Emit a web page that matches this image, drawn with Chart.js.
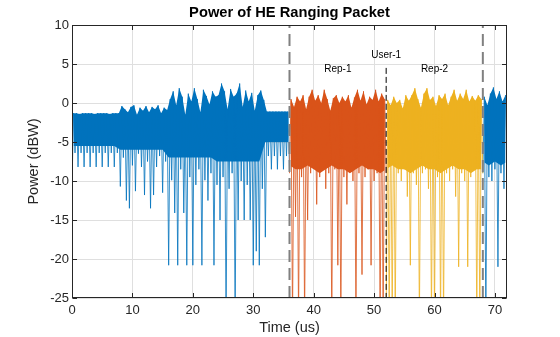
<!DOCTYPE html>
<html>
<head>
<meta charset="utf-8">
<title>Power of HE Ranging Packet</title>
<script src="https://cdn.jsdelivr.net/npm/chart.js@4.4.0/dist/chart.umd.min.js"></script>
<style>
  html, body { margin: 0; padding: 0; background: #fff; }
</style>
</head>
<body>
<canvas id="powerChart" width="560" height="337"></canvas>
<script>
// sample spacing of the traces below, in us
const timeStep = 0.25;
// spacing of the "solid body" floor arrays, in us
const floorStep = 1;

// where each trace starts (us)
const preambleStart = 0;
const rep1Start = 36;
const rep2Start = 52;
const tailStart = 68;

// power (dBW); values under -25 run off the bottom
const preamblePower = [
  -10.7, -1.3, -6.4, -1.3, -8.2, -1.4, -6.4, -1.3,
  -8.2, -1.3, -6.4, -1.3, -8.2, -1.3, -6.4, -1.4,
  -8.2, -1.3, -6.4, -1.3, -8.2, -1.3, -6.4, -1.3,
  -8.2, -1.4, -6.4, -1.3, -8.2, -1.3, -6.4, -1.3,
  -10.7, -0.4, -7.0, -0.8, -12.5, -1.2, -13.5, -0.5,
  -8.0, -0.3, -11.3, -1.5, -6.5, -0.6, -8.2, -1.0,
  -11.8, -0.4, -7.5, -1.2, -13.5, -0.5, -11.8, -0.8,
  -8.2, -0.3, -6.8, -1.3, -11.5, -0.6, -7.5, -0.9,
  -20.8, 0.5, -9.9, 1.5, -14.1, -0.3, -20.8, 1.9,
  -8.5, 0.8, -14.1, -1.5, -20.8, 1.2, -9.5, 0.2,
  -20.8, 1.9, -10.5, 0.5, -8.5, -1.2, -20.8, 1.7,
  -9.9, 0.9, -12.5, -0.2, -9.0, 1.5, -20.8, 0.8,
  -10.5, 1.0, -15.0, 2.5, -9.5, 1.5, -28, -0.8,
  -11.0, 1.8, -9.0, 0.8, -28, 1.2, -15.0, 2.5,
  -10.0, -0.5, -15.0, 1.6, -10.5, 0.2, -15.0, 1.3,
  -20.8, -1.0, -19.0, 1.0, -20.8, 1.6, -11.0, 0.4,
  -17.2, -1.1, -6.8, -1.1, -8.5, -1.1, -6.8, -1.1,
  -8.5, -1.1, -6.8, -1.1, -8.5, -1.1, -6.8, -1.1,
  -8.5
];

const rep1Power = [
  -9.0, 0.5, -28, -0.5, -14.6, 0.8, -28, 0.2,
  -9.5, 1.0, -28, -0.8, -15.0, 0.8, -9.0, 1.7,
  -8.0, 0.3, -13.0, 1.0, -9.5, 0.0, -8.5, 1.7,
  -11.0, 0.5, -9.0, -1.0, -28, 0.6, -8.5, 1.0,
  -20.8, 0.0, -28, 0.8, -9.5, 0.2, -13.0, 1.0,
  -8.0, -0.6, -10.0, 0.7, -28, 1.7, -9.0, 0.3,
  -22.0, 1.5, -9.5, -0.2, -8.5, 0.8, -20.8, 0.4,
  -10.0, 1.7, -9.0, 0.2, -28, 1.2, -28, 0.5,
  -9.0
];

const rep2Power = [
  -28, 0.4, -28, -0.3, -28, 0.8, -28, 0.0,
  -9.0, 0.4, -10.0, -0.7, -8.5, 1.0, -12.0, 0.3,
  -20.8, 1.0, -9.0, 1.9, -10.5, 0.5, -28, -0.6,
  -9.0, 1.2, -8.5, 1.9, -11.0, 0.4, -28, 0.8,
  -28, -0.4, -9.5, 1.0, -28, 0.5, -28, 1.2,
  -9.0, -0.3, -10.0, 0.8, -8.5, 1.7, -12.0, 0.3,
  -21.0, 1.2, -9.0, 0.5, -10.0, 1.7, -21.0, 0.2,
  -9.5, 0.9, -8.5, 0.3, -28, 1.0, -28, 0.5,
  -9.0
];

const tailPower = [
  -9.0, 0.8, -28, -0.3, -9.5, 1.2, -10.0, 2.0,
  -8.5, 0.5, -21.0, 1.5, -9.0, 0.2, -11.0, 1.0,
  -6.0
];

// lower edge of the solid-looking body of each trace (dBW), one per us
const preambleFloor = [
  -5.5, -5.5, -5.5, -5.5, -5.5, -5.5, -5.5, -5.5,
  -6.0, -6.0, -6.0, -6.0, -6.0, -6.0, -6.0, -6.0,
  -7.0, -7.0, -7.0, -7.0, -7.0, -7.0, -7.0, -7.0,
  -7.5, -7.5, -7.5, -7.5, -7.5, -7.5, -7.5, -7.5,
  -5.0, -5.0, -5.0, -5.0, -5.0
];
const rep1Floor = [-8.0, -8.5, -8.5, -8.0, -8.5, -9.0, -8.5, -8.0, -8.5, -8.5, -9.0, -8.5, -8.0, -8.5, -8.5, -9.0, -8.5];
const rep2Floor = [-8.5, -8.0, -8.5, -8.5, -9.0, -8.5, -8.0, -8.5, -8.5, -9.0, -8.5, -8.0, -8.5, -8.5, -9.0, -8.5, -8.5];
const tailFloor = [-7.5, -8.0, -7.5, -8.0, -7.5];

// field boundaries and the user boundary
const repEdges = [36, 68];
const userEdge = 52;
const userLineTop = 4.5;

const xTicks = [0, 10, 20, 30, 40, 50, 60, 70];
const yTicks = [-25, -20, -15, -10, -5, 0, 5, 10];

const noteText = ['Rep-1', 'User-1', 'Rep-2'];
const noteX = [44, 52, 60];
const noteY = [4.3, 6.1, 4.3];

const FONT = '"Liberation Sans", Arial, Helvetica, sans-serif';
const BLUE = '#0072BD', ORANGE = '#D95319', YELLOW = '#EDB120';

function toPoints(start, values, step) {
  return values.map((v, i) => ({ x: start + i * step, y: v }));
}

// only the local peaks of a trace: the top edge of its body
function peakPoints(start, values) {
  return toPoints(start, values, timeStep)
    .filter((p, i) => i > 0 && i < values.length - 1 && p.y >= values[i - 1] && p.y >= values[i + 1]);
}

// one trace = zigzag line + filled body between its peaks and its floor
function traceSets(start, values, floor, color, order) {
  return [
    { data: toPoints(start, values, timeStep), borderColor: color, borderWidth: 0.8, order: order },
    {
      data: peakPoints(start, values), borderWidth: 0, borderColor: 'transparent',
      backgroundColor: color, fill: '+1', order: order + 0.5
    },
    { data: toPoints(start, floor, floorStep), borderWidth: 0, borderColor: 'transparent', order: order + 0.5 }
  ];
}

// box, inward ticks, notes and title, drawn the MATLAB way
const axesFrame = {
  id: 'axesFrame',
  afterDraw(chart) {
    const { ctx, chartArea: a, scales } = chart;
    const L = Math.round(a.left) + 0.5, R = Math.round(a.right) - 0.5;
    const T = Math.round(a.top) + 0.5, B = Math.round(a.bottom) - 0.5;
    ctx.save();
    ctx.strokeStyle = '#262626';
    ctx.lineWidth = 1;
    ctx.strokeRect(L, T, R - L, B - T);
    ctx.beginPath();
    xTicks.forEach(v => {
      const px = Math.round(scales.x.getPixelForValue(v)) + 0.5;
      ctx.moveTo(px, B); ctx.lineTo(px, B - 4.5);
      ctx.moveTo(px, T); ctx.lineTo(px, T + 4.5);
    });
    yTicks.forEach(v => {
      const py = Math.round(scales.y.getPixelForValue(v)) + 0.5;
      ctx.moveTo(L, py); ctx.lineTo(L + 4.5, py);
      ctx.moveTo(R, py); ctx.lineTo(R - 4.5, py);
    });
    ctx.stroke();

    ctx.fillStyle = '#000';
    ctx.font = '10px ' + FONT;
    ctx.textAlign = 'center';
    ctx.textBaseline = 'middle';
    noteText.forEach((t, i) => {
      ctx.fillText(t, scales.x.getPixelForValue(noteX[i]), scales.y.getPixelForValue(noteY[i]));
    });

    ctx.font = 'bold 14.7px ' + FONT;
    ctx.fillText('Power of HE Ranging Packet', (a.left + a.right) / 2, 13);
    ctx.restore();
  }
};

const ctx = document.getElementById('powerChart').getContext('2d');

const powerChart = new Chart(ctx, {
  type: 'line',
  data: {
    datasets: [
      {
        data: [{ x: repEdges[0], y: -25 }, { x: repEdges[0], y: 10 }],
        borderColor: '#808080', borderWidth: 2, borderDash: [12, 6], order: 0
      },
      {
        data: [{ x: repEdges[1], y: -25 }, { x: repEdges[1], y: 10 }],
        borderColor: '#808080', borderWidth: 2, borderDash: [12, 6], order: 0
      },
      {
        data: [{ x: userEdge, y: userLineTop }, { x: userEdge, y: -25 }],
        borderColor: '#000000', borderWidth: 1, borderDash: [6, 3], order: 1
      },
      ...traceSets(rep2Start, rep2Power, rep2Floor, YELLOW, 2),
      ...traceSets(rep1Start, rep1Power, rep1Floor, ORANGE, 4),
      ...traceSets(tailStart, tailPower, tailFloor, BLUE, 6),
      ...traceSets(preambleStart, preamblePower, preambleFloor, BLUE, 8)
    ]
  },
  options: {
    responsive: false,
    animation: false,
    events: [],
    layout: { padding: { left: 0, right: 53, top: 25, bottom: 0 } },
    elements: {
      point: { radius: 0 },
      line: { tension: 0, fill: false }
    },
    scales: {
      x: {
        type: 'linear',
        min: 0,
        max: 72,
        afterBuildTicks: s => { s.ticks = xTicks.map(v => ({ value: v })); },
        afterFit: s => { s.height = 39; },
        grid: { color: '#dfdfdf', drawTicks: false },
        border: { display: false },
        ticks: { padding: 5, autoSkip: false, maxRotation: 0, color: '#262626', font: { family: FONT, size: 13 } },
        title: { display: true, text: 'Time (us)', color: '#262626', padding: { top: 0, bottom: 0 }, font: { family: FONT, size: 14.5 } }
      },
      y: {
        type: 'linear',
        min: -25,
        max: 10,
        afterBuildTicks: s => { s.ticks = yTicks.map(v => ({ value: v })); },
        afterFit: s => { s.width = 72; },
        grid: { color: '#dfdfdf', drawTicks: false },
        border: { display: false },
        ticks: { padding: 3, color: '#262626', font: { family: FONT, size: 13 } },
        title: { display: true, text: 'Power (dBW)', color: '#262626', padding: { top: 25, bottom: 0 }, font: { family: FONT, size: 14.5 } }
      }
    },
    plugins: {
      legend: { display: false },
      tooltip: { enabled: false },
      title: { display: false }
    }
  },
  plugins: [axesFrame]
});
</script>
</body>
</html>
